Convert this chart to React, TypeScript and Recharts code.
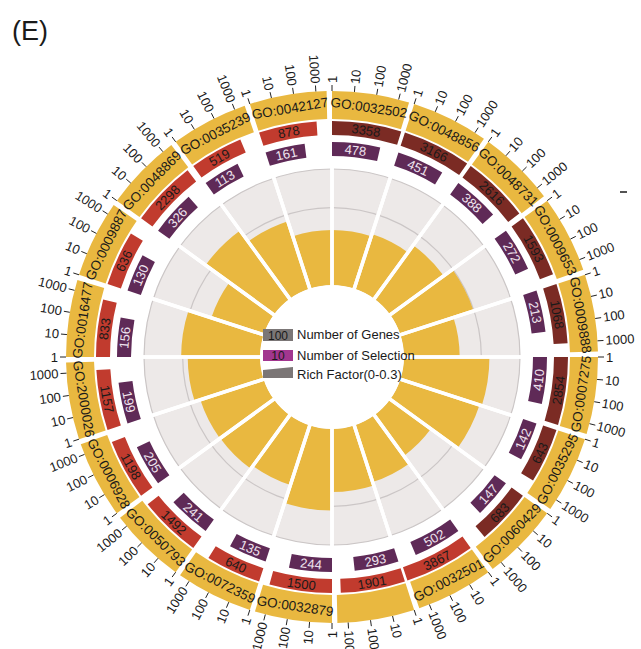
import React from 'react';
import {
    PieChart, Pie, Cell, RadialBarChart, RadialBar, PolarAngleAxis, PolarRadiusAxis, PolarGrid,
} from 'recharts';

// GO terms clockwise from 12 o'clock (sector 10 has no visible label in the figure)
const goTerms = [
    'GO:0032502', 'GO:0048856', 'GO:0048731', 'GO:0009653', 'GO:0009888',
    'GO:0007275', 'GO:0035295', 'GO:0060429', 'GO:0032501', '',
    'GO:0032879', 'GO:0072359', 'GO:0050793', 'GO:0006928', 'GO:2000026',
    'GO:0016477', 'GO:0009887', 'GO:0048869', 'GO:0035239', 'GO:0042127',
];
const geneCounts = [
    3358, 3166, 2616, 1593, 1068, 2854, 643, 683, 3867, 1901,
    1500, 640, 1492, 1198, 1157, 833, 636, 2298, 519, 878,
];
const selectionCounts = [
    478, 451, 388, 272, 213, 410, 142, 147, 502, 293,
    244, 135, 241, 205, 199, 156, 130, 326, 113, 161,
];
const richFactor = [
    0.142, 0.142, 0.148, 0.171, 0.199, 0.144, 0.221, 0.215, 0.130, 0.154,
    0.163, 0.211, 0.162, 0.171, 0.172, 0.187, 0.204, 0.142, 0.218, 0.183,
];
// first 8 terms drawn in dark red, the rest in bright red
const geneShade = [
    'dark', 'dark', 'dark', 'dark', 'dark', 'dark', 'dark', 'dark', 'light', 'light',
    'light', 'light', 'light', 'light', 'light', 'light', 'light', 'light', 'light', 'light',
];
const geneTicks = [1, 10, 100, 1000];
const richGridTicks = [0.2, 0.3];

const W = 641;
const H = 649;
const CX = 332;
const CY = 357;
const LOG_SPAN = 3.72; // log10 units per sector (incl. gap)
const BAND_GAP = 0.24;

const YELLOW = '#E9B840';
const DARK_RED = '#7B2B24';
const RED = '#C13B2E';
const PURPLE = '#5F2A57';
const GREY_BG = '#EDE9E8';
const FONT = '"Liberation Sans", Arial, sans-serif';

const RAD = Math.PI / 180;
const polar = (cx: number, cy: number, r: number, a: number) => ({
    x: cx + r * Math.cos(-a * RAD),
    y: cy + r * Math.sin(-a * RAD),
});
const clock = (a: number) => (((90 - a) % 360) + 360) % 360;
const tangentRotation = (a: number) => {
    const t = clock(a);
    return t > 90 && t < 270 ? t - 180 : t;
};

const bandData = goTerms.flatMap((term, i) => [
    { value: LOG_SPAN - BAND_GAP, kind: 'band', term, i, fill: YELLOW },
    { value: BAND_GAP, kind: 'gap', term, i, fill: 'none' },
]);
const geneData = geneCounts.flatMap((n, i) => [
    { value: Math.log10(n), kind: 'bar', count: n, i, fill: geneShade[i] === 'dark' ? DARK_RED : RED },
    { value: LOG_SPAN - Math.log10(n), kind: 'gap', count: n, i, fill: 'none' },
]);
const selectionData = selectionCounts.flatMap((n, i) => [
    { value: Math.log10(n), kind: 'bar', count: n, i, fill: PURPLE },
    { value: LOG_SPAN - Math.log10(n), kind: 'gap', count: n, i, fill: 'none' },
]);
const sectorData = goTerms.map((term, i) => ({ id: String(i), term, value: 1 }));
const roseData = goTerms.map((term, i) => ({ id: String(i), term, rich: richFactor[i] }));

const renderBandLabel = (props: any) => {
    const d = bandData[props.index];
    if (!d || d.kind !== 'band') return null;
    const { cx, cy, innerRadius, outerRadius, startAngle, endAngle, midAngle } = props;
    const degPerLog = (startAngle - endAngle) / d.value;
    const c = polar(cx, cy, (innerRadius + outerRadius) / 2, midAngle);
    return (
        <g>
            {geneTicks.map((tv) => {
                const a = startAngle - Math.log10(tv) * degPerLog;
                const p1 = polar(cx, cy, outerRadius, a);
                const p2 = polar(cx, cy, outerRadius + 6, a);
                const p3 = polar(cx, cy, outerRadius + 8, a);
                const t = clock(a);
                const right = t < 180;
                const rot = right ? t - 90 : t + 90;
                return (
                    <g key={tv}>
                        <line x1={p1.x} y1={p1.y} x2={p2.x} y2={p2.y} stroke="#222" strokeWidth={1} />
                        <text x={p3.x} y={p3.y} transform={`rotate(${rot} ${p3.x} ${p3.y})`}
                            textAnchor={right ? 'start' : 'end'} dominantBaseline="central"
                            fontSize={13} fontFamily={FONT} fill="#1a1a1a">{tv}</text>
                    </g>
                );
            })}
            {d.term && (
                <text x={c.x} y={c.y} transform={`rotate(${tangentRotation(midAngle)} ${c.x} ${c.y})`}
                    textAnchor="middle" dominantBaseline="central" fontSize={13.5} fontFamily={FONT} fill="#1a1a1a">
                    {d.term}
                </text>
            )}
        </g>
    );
};

const makeBarLabel = (data: any[], color: string) => (props: any) => {
    const d = data[props.index];
    if (!d || d.kind !== 'bar') return null;
    const { cx, cy, innerRadius, outerRadius, midAngle } = props;
    const p = polar(cx, cy, (innerRadius + outerRadius) / 2, midAngle);
    return (
        <text x={p.x} y={p.y} transform={`rotate(${tangentRotation(midAngle)} ${p.x} ${p.y})`}
            textAnchor="middle" dominantBaseline="central" fontSize={13} fontFamily={FONT} fill={color}>
            {d.count}
        </text>
    );
};

const layer: React.CSSProperties = { position: 'absolute', left: 0, top: 0 };

export default function App() {
    return (
        <div style={{ position: 'absolute', left: 0, top: 0, width: W, height: H, background: '#fff', fontFamily: FONT, overflow: 'hidden' }}>
            <div style={layer}>
                <PieChart width={W} height={H} margin={{ top: 0, right: 0, bottom: 0, left: 0 }}>
                    <Pie data={sectorData} dataKey="value" cx={CX} cy={CY} innerRadius={72} outerRadius={188}
                        startAngle={90} endAngle={-270} stroke="none" fill={GREY_BG} isAnimationActive={false} />
                    <Pie data={bandData} dataKey="value" cx={CX} cy={CY} innerRadius={238} outerRadius={266}
                        startAngle={90} endAngle={-270} stroke="none" isAnimationActive={false}
                        label={renderBandLabel} labelLine={false}>
                        {bandData.map((d, i) => <Cell key={i} fill={d.fill} stroke="none" />)}
                    </Pie>
                    <Pie data={geneData} dataKey="value" cx={CX} cy={CY} innerRadius={222} outerRadius={236}
                        startAngle={90} endAngle={-270} stroke="none" isAnimationActive={false}
                        label={makeBarLabel(geneData, '#1a1a1a')} labelLine={false}>
                        {geneData.map((d, i) => <Cell key={i} fill={d.fill} stroke="none" />)}
                    </Pie>
                    <Pie data={selectionData} dataKey="value" cx={CX} cy={CY} innerRadius={201} outerRadius={215}
                        startAngle={90} endAngle={-270} stroke="none" isAnimationActive={false}
                        label={makeBarLabel(selectionData, '#EFE4EE')} labelLine={false}>
                        {selectionData.map((d, i) => <Cell key={i} fill={d.fill} stroke="none" />)}
                    </Pie>
                </PieChart>
            </div>
            <div style={layer}>
                <RadialBarChart width={W} height={H} cx={CX} cy={CY} innerRadius={72} outerRadius={188}
                    startAngle={90} endAngle={-270} data={roseData} layout="centric" barCategoryGap={0}
                    margin={{ top: 0, right: 0, bottom: 0, left: 0 }}>
                    <PolarGrid gridType="circle" radialLines={false} stroke="#CBC6C6" strokeWidth={1.2} />
                    <PolarAngleAxis type="category" dataKey="id" tick={false} axisLine={false} tickLine={false} />
                    <PolarRadiusAxis type="number" domain={[0, 0.3]} ticks={richGridTicks} tick={false}
                        axisLine={false} tickLine={false} />
                    <RadialBar dataKey="rich" fill={YELLOW} stroke="none" isAnimationActive={false} />
                </RadialBarChart>
            </div>
            <div style={layer}>
                <PieChart width={W} height={H} margin={{ top: 0, right: 0, bottom: 0, left: 0 }}>
                    <Pie data={sectorData} dataKey="value" cx={CX} cy={CY} innerRadius={70} outerRadius={191}
                        startAngle={90} endAngle={-270} fill="none" stroke="#fff" strokeWidth={3.5}
                        isAnimationActive={false} />
                </PieChart>
            </div>
            <svg style={layer} width={W} height={H} fontFamily={FONT}>
                <text x={12} y={40} fontSize={27} fill="#1a1a1a">(E)</text>
                <line x1={620} y1={192} x2={627} y2={192} stroke="#1a1a1a" strokeWidth={1.5} />
                <rect x={263} y={329} width={30} height={12} fill="#7B7676" />
                <text x={278} y={335.5} fontSize={12} textAnchor="middle" dominantBaseline="central" fill="#1a1a1a">100</text>
                <text x={297} y={339} fontSize={13} fill="#1a1a1a">Number of Genes</text>
                <rect x={263} y={350} width={30} height={11} fill="#A2368F" />
                <text x={278} y={356} fontSize={12} textAnchor="middle" dominantBaseline="central" fill="#1a1a1a">10</text>
                <text x={297} y={360} fontSize={13} fill="#1a1a1a">Number of Selection</text>
                <polygon points="263,370 293,367 293,378 263,378" fill="#7B7676" />
                <text x={297} y={379} fontSize={13} fill="#1a1a1a">Rich Factor(0-0.3)</text>
            </svg>
        </div>
    );
}
